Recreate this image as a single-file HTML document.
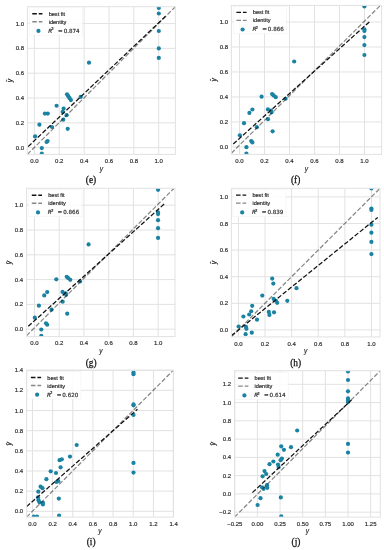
<!DOCTYPE html>
<html><head><meta charset="utf-8"><style>
html,body{margin:0;padding:0;background:#fff;}
svg{display:block;}
</style></head><body>
<svg width="384" height="550" viewBox="0 0 384 550" font-family="Liberation Sans, Arial, sans-serif" font-size="6.0" fill="#2a2a2a" stroke="none">
<style>text{stroke:#333;stroke-width:0.18px;paint-order:stroke;}</style>
<rect width="384" height="550" fill="#fff"/>
<clipPath id="ce"><rect x="27.4" y="6.7" width="148.00" height="147.70"/></clipPath>
<path d="M34.40 6.7V154.4M59.26 6.7V154.4M84.12 6.7V154.4M108.98 6.7V154.4M133.84 6.7V154.4M158.70 6.7V154.4M27.4 147.65H175.4M27.4 122.83H175.4M27.4 98.01H175.4M27.4 73.19H175.4M27.4 48.37H175.4M27.4 23.55H175.4" stroke="#e2e2e2" stroke-width="1" fill="none"/>
<g clip-path="url(#ce)">
<circle cx="44.90" cy="113.60" r="2.1" fill="#1a82a2"/>
<circle cx="47.75" cy="113.60" r="2.1" fill="#1a82a2"/>
<circle cx="63.60" cy="108.60" r="2.1" fill="#1a82a2"/>
<circle cx="62.70" cy="111.90" r="2.1" fill="#1a82a2"/>
<circle cx="66.60" cy="115.20" r="2.1" fill="#1a82a2"/>
<circle cx="63.25" cy="119.70" r="2.1" fill="#1a82a2"/>
<circle cx="39.40" cy="124.70" r="2.1" fill="#1a82a2"/>
<circle cx="52.00" cy="127.00" r="2.1" fill="#1a82a2"/>
<circle cx="67.70" cy="128.80" r="2.1" fill="#1a82a2"/>
<circle cx="35.10" cy="136.40" r="2.1" fill="#1a82a2"/>
<circle cx="46.60" cy="142.00" r="2.1" fill="#1a82a2"/>
<circle cx="47.60" cy="141.00" r="2.1" fill="#1a82a2"/>
<circle cx="41.80" cy="148.10" r="2.1" fill="#1a82a2"/>
<circle cx="41.80" cy="153.70" r="2.1" fill="#1a82a2"/>
<circle cx="89.00" cy="62.70" r="2.1" fill="#1a82a2"/>
<circle cx="67.00" cy="94.30" r="2.1" fill="#1a82a2"/>
<circle cx="68.30" cy="96.20" r="2.1" fill="#1a82a2"/>
<circle cx="69.60" cy="98.20" r="2.1" fill="#1a82a2"/>
<circle cx="70.90" cy="100.10" r="2.1" fill="#1a82a2"/>
<circle cx="80.70" cy="96.90" r="2.1" fill="#1a82a2"/>
<circle cx="56.60" cy="105.75" r="2.1" fill="#1a82a2"/>
<circle cx="158.80" cy="8.00" r="2.1" fill="#1a82a2"/>
<circle cx="158.80" cy="13.50" r="2.1" fill="#1a82a2"/>
<circle cx="158.80" cy="31.00" r="2.1" fill="#1a82a2"/>
<circle cx="158.80" cy="48.40" r="2.1" fill="#1a82a2"/>
<circle cx="158.80" cy="57.90" r="2.1" fill="#1a82a2"/>
<line x1="28.15" y1="146.60" x2="165.60" y2="16.20" stroke="#111" stroke-width="1.25" stroke-dasharray="4.6 2"/>
<line x1="27.4" y1="154.40" x2="175.4" y2="6.70" stroke="#111" stroke-opacity="0.5" stroke-width="1.25" stroke-dasharray="4.6 2"/>
</g>
<rect x="27.4" y="6.7" width="148.00" height="147.70" fill="none" stroke="#e2e2e2" stroke-width="1"/>
<text x="34.40" y="163.00" text-anchor="middle">0.0</text>
<text x="59.26" y="163.00" text-anchor="middle">0.2</text>
<text x="84.12" y="163.00" text-anchor="middle">0.4</text>
<text x="108.98" y="163.00" text-anchor="middle">0.6</text>
<text x="133.84" y="163.00" text-anchor="middle">0.8</text>
<text x="158.70" y="163.00" text-anchor="middle">1.0</text>
<text x="24.00" y="149.65" text-anchor="end">0.0</text>
<text x="24.00" y="124.83" text-anchor="end">0.2</text>
<text x="24.00" y="100.01" text-anchor="end">0.4</text>
<text x="24.00" y="75.19" text-anchor="end">0.6</text>
<text x="24.00" y="50.37" text-anchor="end">0.8</text>
<text x="24.00" y="25.55" text-anchor="end">1.0</text>
<rect x="29.25" y="7.75" width="53" height="27.5" fill="#fff" fill-opacity="0.85" stroke="#f2f2f2" stroke-width="0.6"/>
<line x1="32.25" y1="13.75" x2="42.45" y2="13.75" stroke="#111" stroke-width="1.3" stroke-dasharray="4.6 1.9"/>
<line x1="32.25" y1="21.75" x2="42.45" y2="21.75" stroke="#111" stroke-opacity="0.5" stroke-width="1.3" stroke-dasharray="4.6 1.9"/>
<circle cx="38.45" cy="30.95" r="2.1" fill="#1a82a2"/>
<text x="48.65" y="15.75" font-size="5.6">best fit</text>
<text x="48.65" y="23.85" font-size="5.6">identity</text>
<g font-family="DejaVu Sans, sans-serif" font-size="5.6">
<text x="48.25" y="32.75" font-style="italic">R</text>
<text x="51.35" y="30.25" font-size="3.9">2</text>
<text x="58.05" y="32.75">=</text>
<text x="63.65" y="32.75">0.874</text>
</g>
<text x="101.40" y="170.50" text-anchor="middle" font-style="italic" font-size="6.6">y</text>
<g transform="translate(11.90,80.55) rotate(-90)" font-style="italic" font-size="6.8"><text x="0" y="0" text-anchor="middle">y</text><text x="-0.4" y="-0.6" text-anchor="middle" font-size="6.4">ˆ</text></g>
<text x="91" y="183.1" text-anchor="middle" font-family="Liberation Serif, serif" font-size="9.4" fill="#111" style="stroke:#111;stroke-width:0.25px">(e)</text>
<clipPath id="cf"><rect x="231.4" y="5.4" width="150.20" height="149.00"/></clipPath>
<path d="M239.50 5.4V154.4M264.50 5.4V154.4M289.50 5.4V154.4M314.50 5.4V154.4M339.50 5.4V154.4M364.50 5.4V154.4M231.4 146.90H381.6M231.4 121.92H381.6M231.4 96.94H381.6M231.4 71.96H381.6M231.4 46.98H381.6M231.4 22.00H381.6" stroke="#e2e2e2" stroke-width="1" fill="none"/>
<g clip-path="url(#cf)">
<circle cx="249.40" cy="112.90" r="2.1" fill="#1a82a2"/>
<circle cx="252.40" cy="109.50" r="2.1" fill="#1a82a2"/>
<circle cx="244.00" cy="123.20" r="2.1" fill="#1a82a2"/>
<circle cx="256.80" cy="127.20" r="2.1" fill="#1a82a2"/>
<circle cx="239.85" cy="135.30" r="2.1" fill="#1a82a2"/>
<circle cx="251.20" cy="141.00" r="2.1" fill="#1a82a2"/>
<circle cx="252.40" cy="142.40" r="2.1" fill="#1a82a2"/>
<circle cx="272.60" cy="131.30" r="2.1" fill="#1a82a2"/>
<circle cx="246.40" cy="147.20" r="2.1" fill="#1a82a2"/>
<circle cx="246.40" cy="153.50" r="2.1" fill="#1a82a2"/>
<circle cx="268.00" cy="119.20" r="2.1" fill="#1a82a2"/>
<circle cx="261.60" cy="96.70" r="2.1" fill="#1a82a2"/>
<circle cx="272.10" cy="94.10" r="2.1" fill="#1a82a2"/>
<circle cx="273.60" cy="95.40" r="2.1" fill="#1a82a2"/>
<circle cx="275.70" cy="97.20" r="2.1" fill="#1a82a2"/>
<circle cx="285.60" cy="98.75" r="2.1" fill="#1a82a2"/>
<circle cx="267.90" cy="109.40" r="2.1" fill="#1a82a2"/>
<circle cx="271.00" cy="110.70" r="2.1" fill="#1a82a2"/>
<circle cx="271.50" cy="112.30" r="2.1" fill="#1a82a2"/>
<circle cx="294.20" cy="61.50" r="2.1" fill="#1a82a2"/>
<circle cx="364.40" cy="6.50" r="2.1" fill="#1a82a2"/>
<circle cx="364.40" cy="29.30" r="2.1" fill="#1a82a2"/>
<circle cx="364.40" cy="30.90" r="2.1" fill="#1a82a2"/>
<circle cx="364.40" cy="37.10" r="2.1" fill="#1a82a2"/>
<circle cx="364.40" cy="45.10" r="2.1" fill="#1a82a2"/>
<circle cx="364.40" cy="55.00" r="2.1" fill="#1a82a2"/>
<line x1="233.25" y1="144.00" x2="370.90" y2="20.50" stroke="#111" stroke-width="1.25" stroke-dasharray="4.6 2"/>
<line x1="231.4" y1="153.20" x2="381.6" y2="4.20" stroke="#111" stroke-opacity="0.5" stroke-width="1.25" stroke-dasharray="4.6 2"/>
</g>
<rect x="231.4" y="5.4" width="150.20" height="149.00" fill="none" stroke="#e2e2e2" stroke-width="1"/>
<text x="239.50" y="163.00" text-anchor="middle">0.0</text>
<text x="264.50" y="163.00" text-anchor="middle">0.2</text>
<text x="289.50" y="163.00" text-anchor="middle">0.4</text>
<text x="314.50" y="163.00" text-anchor="middle">0.6</text>
<text x="339.50" y="163.00" text-anchor="middle">0.8</text>
<text x="364.50" y="163.00" text-anchor="middle">1.0</text>
<text x="228.00" y="148.90" text-anchor="end">0.0</text>
<text x="228.00" y="123.92" text-anchor="end">0.2</text>
<text x="228.00" y="98.94" text-anchor="end">0.4</text>
<text x="228.00" y="73.96" text-anchor="end">0.6</text>
<text x="228.00" y="48.98" text-anchor="end">0.8</text>
<text x="228.00" y="24.00" text-anchor="end">1.0</text>
<rect x="233.4" y="6.3" width="53" height="27.5" fill="#fff" fill-opacity="0.85" stroke="#f2f2f2" stroke-width="0.6"/>
<line x1="236.40" y1="12.30" x2="246.60" y2="12.30" stroke="#111" stroke-width="1.3" stroke-dasharray="4.6 1.9"/>
<line x1="236.40" y1="20.30" x2="246.60" y2="20.30" stroke="#111" stroke-opacity="0.5" stroke-width="1.3" stroke-dasharray="4.6 1.9"/>
<circle cx="242.60" cy="29.50" r="2.1" fill="#1a82a2"/>
<text x="252.80" y="14.30" font-size="5.6">best fit</text>
<text x="252.80" y="22.40" font-size="5.6">identity</text>
<g font-family="DejaVu Sans, sans-serif" font-size="5.6">
<text x="252.40" y="31.30" font-style="italic">R</text>
<text x="255.50" y="28.80" font-size="3.9">2</text>
<text x="262.20" y="31.30">=</text>
<text x="267.80" y="31.30">0.866</text>
</g>
<text x="306.50" y="170.50" text-anchor="middle" font-style="italic" font-size="6.6">y</text>
<g transform="translate(215.90,79.90) rotate(-90)" font-style="italic" font-size="6.8"><text x="0" y="0" text-anchor="middle">y</text><text x="-0.4" y="-0.6" text-anchor="middle" font-size="6.4">ˆ</text></g>
<text x="295.6" y="183.1" text-anchor="middle" font-family="Liberation Serif, serif" font-size="9.4" fill="#111" style="stroke:#111;stroke-width:0.25px">(f)</text>
<clipPath id="cg"><rect x="26.6" y="188.3" width="148.40" height="148.30"/></clipPath>
<path d="M34.45 188.3V336.6M59.19 188.3V336.6M83.93 188.3V336.6M108.67 188.3V336.6M133.41 188.3V336.6M158.15 188.3V336.6M26.6 329.20H175M26.6 304.40H175M26.6 279.60H175M26.6 254.80H175M26.6 230.00H175M26.6 205.20H175" stroke="#e2e2e2" stroke-width="1" fill="none"/>
<g clip-path="url(#cg)">
<circle cx="44.25" cy="295.44" r="2.1" fill="#1a82a2"/>
<circle cx="47.22" cy="292.07" r="2.1" fill="#1a82a2"/>
<circle cx="38.90" cy="305.67" r="2.1" fill="#1a82a2"/>
<circle cx="51.57" cy="309.64" r="2.1" fill="#1a82a2"/>
<circle cx="34.80" cy="317.68" r="2.1" fill="#1a82a2"/>
<circle cx="46.03" cy="323.34" r="2.1" fill="#1a82a2"/>
<circle cx="47.22" cy="324.73" r="2.1" fill="#1a82a2"/>
<circle cx="67.21" cy="313.71" r="2.1" fill="#1a82a2"/>
<circle cx="41.28" cy="329.50" r="2.1" fill="#1a82a2"/>
<circle cx="41.28" cy="335.75" r="2.1" fill="#1a82a2"/>
<circle cx="62.65" cy="301.70" r="2.1" fill="#1a82a2"/>
<circle cx="56.32" cy="279.36" r="2.1" fill="#1a82a2"/>
<circle cx="66.71" cy="276.78" r="2.1" fill="#1a82a2"/>
<circle cx="68.20" cy="278.07" r="2.1" fill="#1a82a2"/>
<circle cx="70.27" cy="279.86" r="2.1" fill="#1a82a2"/>
<circle cx="80.07" cy="281.40" r="2.1" fill="#1a82a2"/>
<circle cx="62.55" cy="291.97" r="2.1" fill="#1a82a2"/>
<circle cx="65.62" cy="293.26" r="2.1" fill="#1a82a2"/>
<circle cx="66.12" cy="294.85" r="2.1" fill="#1a82a2"/>
<circle cx="88.58" cy="244.42" r="2.1" fill="#1a82a2"/>
<circle cx="158.05" cy="189.81" r="2.1" fill="#1a82a2"/>
<circle cx="158.05" cy="212.45" r="2.1" fill="#1a82a2"/>
<circle cx="158.05" cy="214.04" r="2.1" fill="#1a82a2"/>
<circle cx="158.05" cy="220.19" r="2.1" fill="#1a82a2"/>
<circle cx="158.05" cy="228.13" r="2.1" fill="#1a82a2"/>
<circle cx="158.05" cy="237.96" r="2.1" fill="#1a82a2"/>
<line x1="28.27" y1="326.32" x2="164.48" y2="203.71" stroke="#111" stroke-width="1.25" stroke-dasharray="4.6 2"/>
<line x1="26.6" y1="335.60" x2="175" y2="187.30" stroke="#111" stroke-opacity="0.5" stroke-width="1.25" stroke-dasharray="4.6 2"/>
</g>
<rect x="26.6" y="188.3" width="148.40" height="148.30" fill="none" stroke="#e2e2e2" stroke-width="1"/>
<text x="34.45" y="345.20" text-anchor="middle">0.0</text>
<text x="59.19" y="345.20" text-anchor="middle">0.2</text>
<text x="83.93" y="345.20" text-anchor="middle">0.4</text>
<text x="108.67" y="345.20" text-anchor="middle">0.6</text>
<text x="133.41" y="345.20" text-anchor="middle">0.8</text>
<text x="158.15" y="345.20" text-anchor="middle">1.0</text>
<text x="23.20" y="331.20" text-anchor="end">0.0</text>
<text x="23.20" y="306.40" text-anchor="end">0.2</text>
<text x="23.20" y="281.60" text-anchor="end">0.4</text>
<text x="23.20" y="256.80" text-anchor="end">0.6</text>
<text x="23.20" y="232.00" text-anchor="end">0.8</text>
<text x="23.20" y="207.20" text-anchor="end">1.0</text>
<rect x="28.8" y="189.25" width="53" height="27.5" fill="#fff" fill-opacity="0.85" stroke="#f2f2f2" stroke-width="0.6"/>
<line x1="31.80" y1="195.25" x2="42.00" y2="195.25" stroke="#111" stroke-width="1.3" stroke-dasharray="4.6 1.9"/>
<line x1="31.80" y1="203.25" x2="42.00" y2="203.25" stroke="#111" stroke-opacity="0.5" stroke-width="1.3" stroke-dasharray="4.6 1.9"/>
<circle cx="38.00" cy="212.45" r="2.1" fill="#1a82a2"/>
<text x="48.20" y="197.25" font-size="5.6">best fit</text>
<text x="48.20" y="205.35" font-size="5.6">identity</text>
<g font-family="DejaVu Sans, sans-serif" font-size="5.6">
<text x="47.80" y="214.25" font-style="italic">R</text>
<text x="50.90" y="211.75" font-size="3.9">2</text>
<text x="57.60" y="214.25">=</text>
<text x="63.20" y="214.25">0.866</text>
</g>
<text x="100.80" y="352.70" text-anchor="middle" font-style="italic" font-size="6.6">y</text>
<g transform="translate(11.10,262.45) rotate(-90)" font-style="italic" font-size="6.8"><text x="0" y="0" text-anchor="middle">y</text><text x="-0.4" y="-0.6" text-anchor="middle" font-size="6.4">ˆ</text></g>
<text x="91.1" y="366.0" text-anchor="middle" font-family="Liberation Serif, serif" font-size="9.4" fill="#111" style="stroke:#111;stroke-width:0.25px">(g)</text>
<clipPath id="ch"><rect x="231.4" y="188.3" width="148.60" height="148.60"/></clipPath>
<path d="M238.40 188.3V336.9M265.02 188.3V336.9M291.64 188.3V336.9M318.26 188.3V336.9M344.88 188.3V336.9M371.50 188.3V336.9M231.4 329.90H380M231.4 303.30H380M231.4 276.70H380M231.4 250.10H380M231.4 223.50H380M231.4 196.90H380" stroke="#e2e2e2" stroke-width="1" fill="none"/>
<g clip-path="url(#ch)">
<circle cx="272.20" cy="278.60" r="2.1" fill="#1a82a2"/>
<circle cx="273.30" cy="283.60" r="2.1" fill="#1a82a2"/>
<circle cx="262.30" cy="295.60" r="2.1" fill="#1a82a2"/>
<circle cx="273.70" cy="298.90" r="2.1" fill="#1a82a2"/>
<circle cx="275.90" cy="300.80" r="2.1" fill="#1a82a2"/>
<circle cx="277.20" cy="302.80" r="2.1" fill="#1a82a2"/>
<circle cx="252.20" cy="305.80" r="2.1" fill="#1a82a2"/>
<circle cx="251.20" cy="311.25" r="2.1" fill="#1a82a2"/>
<circle cx="249.20" cy="314.50" r="2.1" fill="#1a82a2"/>
<circle cx="243.40" cy="316.50" r="2.1" fill="#1a82a2"/>
<circle cx="268.80" cy="311.90" r="2.1" fill="#1a82a2"/>
<circle cx="269.40" cy="314.90" r="2.1" fill="#1a82a2"/>
<circle cx="274.00" cy="312.30" r="2.1" fill="#1a82a2"/>
<circle cx="257.00" cy="319.70" r="2.1" fill="#1a82a2"/>
<circle cx="238.60" cy="326.50" r="2.1" fill="#1a82a2"/>
<circle cx="246.00" cy="326.90" r="2.1" fill="#1a82a2"/>
<circle cx="246.40" cy="328.80" r="2.1" fill="#1a82a2"/>
<circle cx="251.80" cy="332.70" r="2.1" fill="#1a82a2"/>
<circle cx="245.60" cy="334.20" r="2.1" fill="#1a82a2"/>
<circle cx="296.50" cy="288.20" r="2.1" fill="#1a82a2"/>
<circle cx="287.30" cy="300.80" r="2.1" fill="#1a82a2"/>
<circle cx="371.40" cy="188.40" r="2.1" fill="#1a82a2"/>
<circle cx="371.40" cy="208.60" r="2.1" fill="#1a82a2"/>
<circle cx="371.40" cy="210.00" r="2.1" fill="#1a82a2"/>
<circle cx="371.40" cy="224.70" r="2.1" fill="#1a82a2"/>
<circle cx="371.40" cy="232.70" r="2.1" fill="#1a82a2"/>
<circle cx="371.40" cy="241.90" r="2.1" fill="#1a82a2"/>
<circle cx="371.40" cy="254.10" r="2.1" fill="#1a82a2"/>
<line x1="231.50" y1="335.60" x2="377.70" y2="217.40" stroke="#111" stroke-width="1.25" stroke-dasharray="4.6 2"/>
<line x1="231.4" y1="336.90" x2="380" y2="188.30" stroke="#111" stroke-opacity="0.5" stroke-width="1.25" stroke-dasharray="4.6 2"/>
</g>
<rect x="231.4" y="188.3" width="148.60" height="148.60" fill="none" stroke="#e2e2e2" stroke-width="1"/>
<text x="238.40" y="345.50" text-anchor="middle">0.0</text>
<text x="265.02" y="345.50" text-anchor="middle">0.2</text>
<text x="291.64" y="345.50" text-anchor="middle">0.4</text>
<text x="318.26" y="345.50" text-anchor="middle">0.6</text>
<text x="344.88" y="345.50" text-anchor="middle">0.8</text>
<text x="371.50" y="345.50" text-anchor="middle">1.0</text>
<text x="228.00" y="331.90" text-anchor="end">0.0</text>
<text x="228.00" y="305.30" text-anchor="end">0.2</text>
<text x="228.00" y="278.70" text-anchor="end">0.4</text>
<text x="228.00" y="252.10" text-anchor="end">0.6</text>
<text x="228.00" y="225.50" text-anchor="end">0.8</text>
<text x="228.00" y="198.90" text-anchor="end">1.0</text>
<rect x="233" y="189.2" width="53" height="27.5" fill="#fff" fill-opacity="0.85" stroke="#f2f2f2" stroke-width="0.6"/>
<line x1="236.00" y1="195.20" x2="246.20" y2="195.20" stroke="#111" stroke-width="1.3" stroke-dasharray="4.6 1.9"/>
<line x1="236.00" y1="203.20" x2="246.20" y2="203.20" stroke="#111" stroke-opacity="0.5" stroke-width="1.3" stroke-dasharray="4.6 1.9"/>
<circle cx="242.20" cy="212.40" r="2.1" fill="#1a82a2"/>
<text x="252.40" y="197.20" font-size="5.6">best fit</text>
<text x="252.40" y="205.30" font-size="5.6">identity</text>
<g font-family="DejaVu Sans, sans-serif" font-size="5.6">
<text x="252.00" y="214.20" font-style="italic">R</text>
<text x="255.10" y="211.70" font-size="3.9">2</text>
<text x="261.80" y="214.20">=</text>
<text x="267.40" y="214.20">0.839</text>
</g>
<text x="305.70" y="353.00" text-anchor="middle" font-style="italic" font-size="6.6">y</text>
<g transform="translate(215.90,262.60) rotate(-90)" font-style="italic" font-size="6.8"><text x="0" y="0" text-anchor="middle">y</text><text x="-0.4" y="-0.6" text-anchor="middle" font-size="6.4">ˆ</text></g>
<text x="295.7" y="366.0" text-anchor="middle" font-family="Liberation Serif, serif" font-size="9.4" fill="#111" style="stroke:#111;stroke-width:0.25px">(h)</text>
<clipPath id="ci"><rect x="26.6" y="370.3" width="146.70" height="146.80"/></clipPath>
<path d="M32.45 370.3V517.1M52.61 370.3V517.1M72.77 370.3V517.1M92.93 370.3V517.1M113.09 370.3V517.1M133.25 370.3V517.1M153.41 370.3V517.1M173.57 370.3V517.1M26.6 511.30H173.3M26.6 491.14H173.3M26.6 470.98H173.3M26.6 450.82H173.3M26.6 430.66H173.3M26.6 410.50H173.3M26.6 390.34H173.3M26.6 370.18H173.3" stroke="#e2e2e2" stroke-width="1" fill="none"/>
<g clip-path="url(#ci)">
<circle cx="76.70" cy="445.00" r="2.1" fill="#1a82a2"/>
<circle cx="70.00" cy="456.60" r="2.1" fill="#1a82a2"/>
<circle cx="59.60" cy="460.20" r="2.1" fill="#1a82a2"/>
<circle cx="61.80" cy="459.30" r="2.1" fill="#1a82a2"/>
<circle cx="60.60" cy="467.30" r="2.1" fill="#1a82a2"/>
<circle cx="50.70" cy="471.30" r="2.1" fill="#1a82a2"/>
<circle cx="56.00" cy="473.00" r="2.1" fill="#1a82a2"/>
<circle cx="46.40" cy="479.20" r="2.1" fill="#1a82a2"/>
<circle cx="56.50" cy="482.00" r="2.1" fill="#1a82a2"/>
<circle cx="58.30" cy="481.20" r="2.1" fill="#1a82a2"/>
<circle cx="40.60" cy="486.70" r="2.1" fill="#1a82a2"/>
<circle cx="42.50" cy="488.20" r="2.1" fill="#1a82a2"/>
<circle cx="38.30" cy="491.70" r="2.1" fill="#1a82a2"/>
<circle cx="38.00" cy="497.30" r="2.1" fill="#1a82a2"/>
<circle cx="38.50" cy="500.20" r="2.1" fill="#1a82a2"/>
<circle cx="39.50" cy="502.30" r="2.1" fill="#1a82a2"/>
<circle cx="42.90" cy="502.80" r="2.1" fill="#1a82a2"/>
<circle cx="42.90" cy="504.40" r="2.1" fill="#1a82a2"/>
<circle cx="58.80" cy="498.60" r="2.1" fill="#1a82a2"/>
<circle cx="59.10" cy="515.50" r="2.1" fill="#1a82a2"/>
<circle cx="33.80" cy="516.50" r="2.1" fill="#1a82a2"/>
<circle cx="37.00" cy="516.50" r="2.1" fill="#1a82a2"/>
<circle cx="133.50" cy="372.60" r="2.1" fill="#1a82a2"/>
<circle cx="133.50" cy="374.20" r="2.1" fill="#1a82a2"/>
<circle cx="133.50" cy="404.40" r="2.1" fill="#1a82a2"/>
<circle cx="133.50" cy="405.30" r="2.1" fill="#1a82a2"/>
<circle cx="133.50" cy="414.90" r="2.1" fill="#1a82a2"/>
<circle cx="133.50" cy="462.90" r="2.1" fill="#1a82a2"/>
<circle cx="133.50" cy="472.60" r="2.1" fill="#1a82a2"/>
<line x1="26.60" y1="506.60" x2="137.50" y2="409.20" stroke="#111" stroke-width="1.25" stroke-dasharray="4.6 2"/>
<line x1="26.6" y1="517.10" x2="173.3" y2="370.30" stroke="#111" stroke-opacity="0.5" stroke-width="1.25" stroke-dasharray="4.6 2"/>
</g>
<rect x="26.6" y="370.3" width="146.70" height="146.80" fill="none" stroke="#e2e2e2" stroke-width="1"/>
<text x="32.45" y="525.70" text-anchor="middle">0.0</text>
<text x="52.61" y="525.70" text-anchor="middle">0.2</text>
<text x="72.77" y="525.70" text-anchor="middle">0.4</text>
<text x="92.93" y="525.70" text-anchor="middle">0.6</text>
<text x="113.09" y="525.70" text-anchor="middle">0.8</text>
<text x="133.25" y="525.70" text-anchor="middle">1.0</text>
<text x="153.41" y="525.70" text-anchor="middle">1.2</text>
<text x="173.57" y="525.70" text-anchor="middle">1.4</text>
<text x="23.20" y="513.30" text-anchor="end">0.0</text>
<text x="23.20" y="493.14" text-anchor="end">0.2</text>
<text x="23.20" y="472.98" text-anchor="end">0.4</text>
<text x="23.20" y="452.82" text-anchor="end">0.6</text>
<text x="23.20" y="432.66" text-anchor="end">0.8</text>
<text x="23.20" y="412.50" text-anchor="end">1.0</text>
<text x="23.20" y="392.34" text-anchor="end">1.2</text>
<text x="23.20" y="372.18" text-anchor="end">1.4</text>
<rect x="27.9" y="371.5" width="53" height="27.5" fill="#fff" fill-opacity="0.85" stroke="#f2f2f2" stroke-width="0.6"/>
<line x1="30.90" y1="377.50" x2="41.10" y2="377.50" stroke="#111" stroke-width="1.3" stroke-dasharray="4.6 1.9"/>
<line x1="30.90" y1="385.50" x2="41.10" y2="385.50" stroke="#111" stroke-opacity="0.5" stroke-width="1.3" stroke-dasharray="4.6 1.9"/>
<circle cx="37.10" cy="394.70" r="2.1" fill="#1a82a2"/>
<text x="47.30" y="379.50" font-size="5.6">best fit</text>
<text x="47.30" y="387.60" font-size="5.6">identity</text>
<g font-family="DejaVu Sans, sans-serif" font-size="5.6">
<text x="46.90" y="396.50" font-style="italic">R</text>
<text x="50.00" y="394.00" font-size="3.9">2</text>
<text x="56.70" y="396.50">=</text>
<text x="62.30" y="396.50">0.620</text>
</g>
<text x="99.95" y="533.20" text-anchor="middle" font-style="italic" font-size="6.6">y</text>
<g transform="translate(11.10,443.70) rotate(-90)" font-style="italic" font-size="6.8"><text x="0" y="0" text-anchor="middle">y</text><text x="-0.4" y="-0.6" text-anchor="middle" font-size="6.4">ˆ</text></g>
<text x="91.1" y="545.0" text-anchor="middle" font-family="Liberation Serif, serif" font-size="9.4" fill="#111" style="stroke:#111;stroke-width:0.25px">(i)</text>
<clipPath id="cj"><rect x="234.6" y="370.7" width="145.70" height="146.40"/></clipPath>
<path d="M234.75 370.7V517.1M257.40 370.7V517.1M280.05 370.7V517.1M302.70 370.7V517.1M325.35 370.7V517.1M348.00 370.7V517.1M370.65 370.7V517.1M234.6 512.16H380.3M234.6 493.90H380.3M234.6 475.64H380.3M234.6 457.38H380.3M234.6 439.12H380.3M234.6 420.86H380.3M234.6 402.60H380.3M234.6 384.34H380.3" stroke="#e2e2e2" stroke-width="1" fill="none"/>
<g clip-path="url(#cj)">
<circle cx="297.20" cy="430.50" r="2.1" fill="#1a82a2"/>
<circle cx="291.00" cy="447.20" r="2.1" fill="#1a82a2"/>
<circle cx="281.25" cy="446.30" r="2.1" fill="#1a82a2"/>
<circle cx="283.90" cy="449.80" r="2.1" fill="#1a82a2"/>
<circle cx="277.70" cy="454.70" r="2.1" fill="#1a82a2"/>
<circle cx="281.90" cy="458.60" r="2.1" fill="#1a82a2"/>
<circle cx="280.60" cy="460.20" r="2.1" fill="#1a82a2"/>
<circle cx="273.40" cy="461.50" r="2.1" fill="#1a82a2"/>
<circle cx="269.50" cy="464.20" r="2.1" fill="#1a82a2"/>
<circle cx="278.00" cy="464.50" r="2.1" fill="#1a82a2"/>
<circle cx="278.60" cy="467.10" r="2.1" fill="#1a82a2"/>
<circle cx="264.50" cy="471.10" r="2.1" fill="#1a82a2"/>
<circle cx="266.20" cy="474.00" r="2.1" fill="#1a82a2"/>
<circle cx="262.60" cy="476.30" r="2.1" fill="#1a82a2"/>
<circle cx="262.10" cy="487.30" r="2.1" fill="#1a82a2"/>
<circle cx="263.60" cy="488.80" r="2.1" fill="#1a82a2"/>
<circle cx="267.00" cy="485.20" r="2.1" fill="#1a82a2"/>
<circle cx="267.30" cy="487.80" r="2.1" fill="#1a82a2"/>
<circle cx="260.50" cy="498.20" r="2.1" fill="#1a82a2"/>
<circle cx="257.60" cy="505.00" r="2.1" fill="#1a82a2"/>
<circle cx="280.80" cy="497.40" r="2.1" fill="#1a82a2"/>
<circle cx="281.30" cy="516.30" r="2.1" fill="#1a82a2"/>
<circle cx="348.00" cy="371.40" r="2.1" fill="#1a82a2"/>
<circle cx="348.00" cy="380.00" r="2.1" fill="#1a82a2"/>
<circle cx="348.00" cy="391.30" r="2.1" fill="#1a82a2"/>
<circle cx="348.00" cy="398.40" r="2.1" fill="#1a82a2"/>
<circle cx="348.00" cy="400.40" r="2.1" fill="#1a82a2"/>
<circle cx="348.00" cy="402.10" r="2.1" fill="#1a82a2"/>
<circle cx="348.00" cy="443.90" r="2.1" fill="#1a82a2"/>
<circle cx="348.00" cy="452.60" r="2.1" fill="#1a82a2"/>
<line x1="252.40" y1="492.60" x2="351.50" y2="400.00" stroke="#111" stroke-width="1.25" stroke-dasharray="4.6 2"/>
<line x1="234.6" y1="517.10" x2="380.3" y2="370.70" stroke="#111" stroke-opacity="0.5" stroke-width="1.25" stroke-dasharray="4.6 2"/>
</g>
<rect x="234.6" y="370.7" width="145.70" height="146.40" fill="none" stroke="#e2e2e2" stroke-width="1"/>
<text x="234.75" y="525.70" text-anchor="middle">−0.25</text>
<text x="257.40" y="525.70" text-anchor="middle">0.00</text>
<text x="280.05" y="525.70" text-anchor="middle">0.25</text>
<text x="302.70" y="525.70" text-anchor="middle">0.50</text>
<text x="325.35" y="525.70" text-anchor="middle">0.75</text>
<text x="348.00" y="525.70" text-anchor="middle">1.00</text>
<text x="370.65" y="525.70" text-anchor="middle">1.25</text>
<text x="231.20" y="514.16" text-anchor="end">−0.2</text>
<text x="231.20" y="495.90" text-anchor="end">0.0</text>
<text x="231.20" y="477.64" text-anchor="end">0.2</text>
<text x="231.20" y="459.38" text-anchor="end">0.4</text>
<text x="231.20" y="441.12" text-anchor="end">0.6</text>
<text x="231.20" y="422.86" text-anchor="end">0.8</text>
<text x="231.20" y="404.60" text-anchor="end">1.0</text>
<text x="231.20" y="386.34" text-anchor="end">1.2</text>
<rect x="235.2" y="372.2" width="53" height="27.5" fill="#fff" fill-opacity="0.85" stroke="#f2f2f2" stroke-width="0.6"/>
<line x1="238.20" y1="378.20" x2="248.40" y2="378.20" stroke="#111" stroke-width="1.3" stroke-dasharray="4.6 1.9"/>
<line x1="238.20" y1="386.20" x2="248.40" y2="386.20" stroke="#111" stroke-opacity="0.5" stroke-width="1.3" stroke-dasharray="4.6 1.9"/>
<circle cx="244.40" cy="395.40" r="2.1" fill="#1a82a2"/>
<text x="254.60" y="380.20" font-size="5.6">best fit</text>
<text x="254.60" y="388.30" font-size="5.6">identity</text>
<g font-family="DejaVu Sans, sans-serif" font-size="5.6">
<text x="254.20" y="397.20" font-style="italic">R</text>
<text x="257.30" y="394.70" font-size="3.9">2</text>
<text x="264.00" y="397.20">=</text>
<text x="269.60" y="397.20">0.614</text>
</g>
<text x="307.45" y="533.20" text-anchor="middle" font-style="italic" font-size="6.6">y</text>
<g transform="translate(215.30,443.90) rotate(-90)" font-style="italic" font-size="6.8"><text x="0" y="0" text-anchor="middle">y</text><text x="-0.4" y="-0.6" text-anchor="middle" font-size="6.4">ˆ</text></g>
<text x="296" y="545.2" text-anchor="middle" font-family="Liberation Serif, serif" font-size="9.4" fill="#111" style="stroke:#111;stroke-width:0.25px">(j)</text>
</svg>
</body></html>
